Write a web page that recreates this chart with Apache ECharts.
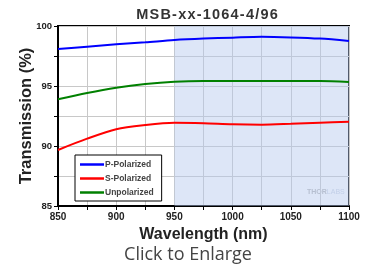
<!DOCTYPE html>
<html>
<head>
<meta charset="utf-8">
<script src="https://cdn.jsdelivr.net/npm/echarts@6/dist/echarts.min.js"></script>
<style>
  html, body { margin: 0; padding: 0; background: #fff; }
  #chart { width: 375px; height: 270px; }
</style>
</head>
<body>
<div id="chart"></div>
<script>
// wavelength (nm)
var wavelengths = [850, 875, 900, 925, 950, 975, 1000, 1025, 1050, 1075, 1100]
// transmission (%)
var pPolarized = [98.08, 98.28, 98.47, 98.64, 98.83, 98.95, 99.03, 99.1, 99.05, 98.95, 98.75]
var sPolarized = [89.67, 90.61, 91.4, 91.75, 91.94, 91.9, 91.81, 91.78, 91.85, 91.94, 92.03]
var unpolarized = [93.89, 94.42, 94.86, 95.17, 95.36, 95.42, 95.42, 95.42, 95.42, 95.42, 95.33]
var shadedRange = [950, 1100]

function pairs (ys) {
    return wavelengths.map(function (x, i) { return [x, ys[i]] })
}

var font = 'Liberation Sans'
var chart = echarts.init(document.getElementById('chart'))

chart.setOption({
    animation: false,
    title: {
        text: 'M S B - x x - 1 0 6 4 - 4 / 9 6'.replace(/ /g, '\u200a'),
        left: 202, top: 2, textAlign: 'center',
        textStyle: { fontFamily: font, fontSize: 14.5, fontWeight: 'bold', color: '#333' }
    },
    grid: { left: 58, right: 26, top: 26, bottom: 64, show: true, borderColor: '#000', borderWidth: 2 },
    legend: {
        orient: 'vertical',
        left: 75, top: 155,
        padding: [5, 8, 4, 5],
        itemGap: 5,
        icon: 'rect',
        itemWidth: 24, itemHeight: 2.5,
        borderColor: '#000', borderWidth: 1,
        backgroundColor: '#fff',
        textStyle: { fontFamily: font, fontSize: 8.5, fontWeight: 'bold', color: '#444', padding: [0, 0, 0, -4] },
        data: ['P-Polarized', 'S-Polarized', 'Unpolarized']
    },
    xAxis: {
        type: 'value', min: 850, max: 1100, interval: 25,
        name: 'Wavelength (nm)', nameLocation: 'middle', nameGap: 21, nameMoveOverlap: false,
        nameTextStyle: { fontFamily: font, fontSize: 16, fontWeight: 'bold', color: '#222' },
        axisLine: { lineStyle: { color: '#000', width: 2 } },
        axisTick: { lineStyle: { color: '#000' }, length: 4 },
        axisLabel: {
            fontFamily: font, fontSize: 10, fontWeight: 'bold', color: '#222', margin: 6,
            formatter: function (v) { return v % 50 === 0 ? String(v) : '' }
        },
        splitLine: { lineStyle: { color: '#c8c8c8', width: 1 } }
    },
    yAxis: {
        type: 'value', min: 85, max: 100, interval: 2.5,
        name: 'Transmission (%)', nameLocation: 'middle', nameGap: 23, nameMoveOverlap: false,
        nameTextStyle: { fontFamily: font, fontSize: 16.5, fontWeight: 'bold', color: '#222', verticalAlign: 'bottom' },
        axisLine: { lineStyle: { color: '#000', width: 2 } },
        axisTick: { lineStyle: { color: '#000' }, length: 4 },
        axisLabel: {
            fontFamily: font, fontSize: 9.5, fontWeight: 'bold', color: '#222', margin: 6,
            formatter: function (v) { return v % 5 === 0 ? String(v) : '' }
        },
        splitLine: { lineStyle: { color: '#c8c8c8', width: 1 } }
    },
    series: [
        {
            name: 'P-Polarized', type: 'line', smooth: 0.3, symbol: 'none',
            lineStyle: { color: '#0000ff', width: 2 }, itemStyle: { color: '#0000ff' },
            data: pairs(pPolarized),
            markArea: {
                silent: true,
                itemStyle: { color: 'rgba(180,200,238,0.45)' },
                data: [[{ xAxis: shadedRange[0] }, { xAxis: shadedRange[1] }]]
            }
        },
        {
            name: 'S-Polarized', type: 'line', smooth: 0.3, symbol: 'none',
            lineStyle: { color: '#ff0000', width: 2 }, itemStyle: { color: '#ff0000' },
            data: pairs(sPolarized)
        },
        {
            name: 'Unpolarized', type: 'line', smooth: 0.3, symbol: 'none',
            lineStyle: { color: '#008000', width: 2 }, itemStyle: { color: '#008000' },
            data: pairs(unpolarized)
        }
    ],
    graphic: [
        {
            type: 'text', left: 307, top: 189, silent: true,
            style: { text: '{a|THOR}{b|LABS}', rich: {
                a: { fontFamily: font, fontSize: 7, fontWeight: 'bold', fill: '#b8b8b8' },
                b: { fontFamily: font, fontSize: 7, fill: '#cfd6e4' }
            } }
        },
        {
            type: 'text', silent: true,
            style: { x: 188, y: 255, text: 'Click to Enlarge', fontFamily: 'Open Sans', fontSize: 18,
                fill: '#444', align: 'center', verticalAlign: 'middle' }
        }
    ]
})
</script>
</body>
</html>
